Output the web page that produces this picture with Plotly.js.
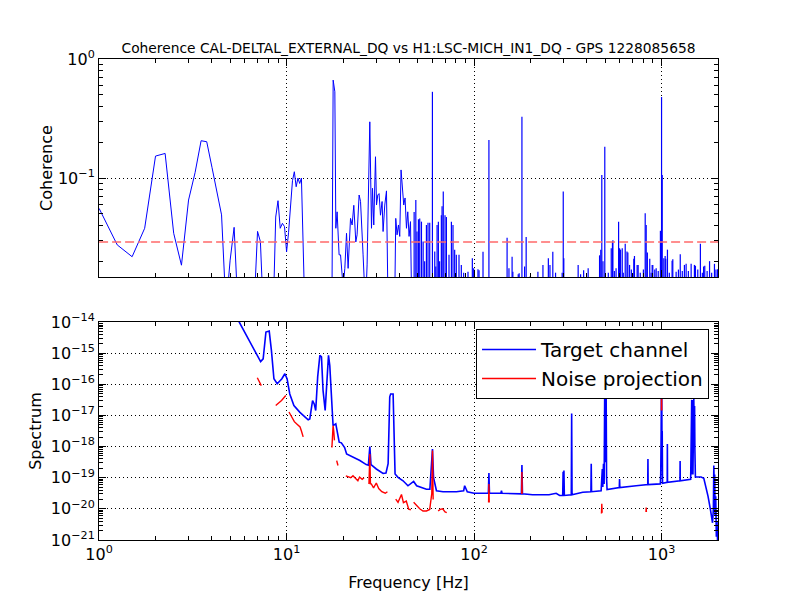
<!DOCTYPE html>
<html>
<head>
<meta charset="utf-8">
<script src="https://cdn.plot.ly/plotly-3.0.1.min.js"></script>
<style>html,body{margin:0;padding:0;background:#fff;}#plot{width:800px;height:600px;}</style>
</head>
<body>
<div id="plot"></div>
<script>
// ---------- Top panel: coherence, continuous low-frequency part (Hz, coherence) ----------
const cohFreq = [1.0,1.25,1.5,1.75,2.0,2.25,2.5,2.75,3.0,3.25,3.5,3.75,4.0,4.25,4.5,4.75,5.0,5.25,5.5,6.5,
  6.75,7.0,7.25,7.5,8.5,8.75,9.0,9.25,9.5,9.75,10.0,10.25,10.5,10.75,11.0,11.25,11.5,11.75,12.0,12.25,
  12.5,17.45,17.72,18.09,18.31,18.6,19.06,19.4,19.71,20.03,20.45,20.88,21.29,21.93,22.37,22.83,23.4,23.77,24.37,
  24.8,25.59,26.36,26.88,27.79,28.37,28.72,29.18,29.8,30.17,30.65,31.14,31.68,32.31,32.71,33.4,34.1,34.78,
  37.7,38.22,38.84,39.51,40.14,40.79,41.5,42.16,42.85,43.59,44.3,45.01,45.8,46.5];
const cohVal = [0.0556,0.0274,0.0218,0.0378,0.153,0.161,0.0343,0.0185,0.0653,0.111,0.206,0.202,0.123,0.079,0.049,0.008,0.0204,0.0385,0.008,0.008,
  0.010,0.0356,0.0292,0.008,0.008,0.047,0.0645,0.0378,0.0416,0.039,0.024,0.035,0.06,0.095,0.113,0.0845,0.1,0.09,0.1,0.04,
  0.008,0.008,0.666,0.531,0.0378,0.052,0.0226,0.0226,0.0163,0.012,0.0174,0.0343,0.0174,0.0458,0.0403,0.059,0.029,0.0333,0.072,
  0.0635,0.0226,0.008,0.0186,0.297,0.0378,0.082,0.0403,0.151,0.0593,0.072,0.074,0.0487,0.0635,0.0355,0.0593,0.078,0.008,
  0.008,0.0458,0.0333,0.0403,0.0323,0.117,0.082,0.0593,0.068,0.0378,0.052,0.0323,0.043,0.008];

// ---------- Top panel: narrow coherence lines above 46 Hz (Hz, peak coherence) ----------
const spikeFreq = [47.9,48.9,49.6,50.5,51.3,52.4,53.5,54.5,55.7,56.8,58.0,59.96,61.7,62.5,63.5,64.5,65.5,66.9,67.5,68.5,
  70.0,71.2,73.5,75.7,77.2,78.8,80.4,83.1,85.5,88.0,92.8,97.9,99.5,104.9,106.3,111.6,120.0,150.0,153.5,159.5,
  161.0,172.0,174.0,180.0,186.0,189.6,199.5,219.0,233.0,249.0,254.0,263.0,272.0,295.0,299.0,301.0,359.0,370.0,384.0,406.0,
  467.0,474.0,480.0,487.0,498.0,520.0,539.0,547.0,550.0,560.0,572.0,590.0,597.0,604.0,617.0,625.0,640.0,654.0,661.0,675.0,
  690.0,711.0,717.0,741.0,750.0,770.0,800.0,818.0,828.0,840.0,865.0,880.0,891.0,898.0,920.0,936.0,960.0,986.0,1000.0,1008.0,
  1028.0,1045.0,1053.0,1075.0,1100.0,1138.0,1148.0,1196.0,1230.0,1258.0,1290.0,1324.0,1352.0,1390.0,1438.0,1497.0,1516.0,1560.0,1611.0,1650.0,
  1676.0,1700.0,1750.0,1803.0,1850.0,1915.0,1950.0,1990.0];
const spikeCoh = [0.0519,0.0655,0.0355,0.045,0.0458,0.043,0.0292,0.02,0.0403,0.042,0.042,0.531,0.0241,0.018,0.0403,0.043,0.02,0.0487,0.058,0.077,
  0.0487,0.047,0.0226,0.043,0.0403,0.025,0.0226,0.0226,0.0186,0.016,0.0163,0.0212,0.0174,0.0171,0.0168,0.024,0.209,0.0315,0.0174,0.0218,
  0.0163,0.0155,0.0158,0.327,0.018,0.032,0.015,0.0163,0.0186,0.0212,0.0186,0.024,0.016,0.016,0.077,0.0212,0.0186,0.0155,0.0168,0.0174,
  0.0224,0.0249,0.106,0.02,0.183,0.016,0.0257,0.0292,0.030,0.0165,0.0174,0.043,0.0257,0.025,0.0257,0.016,0.028,0.0241,0.0236,0.0186,
  0.017,0.021,0.0221,0.0186,0.0186,0.016,0.017,0.0505,0.0403,0.0236,0.021,0.016,0.0186,0.0186,0.017,0.0174,0.0165,0.036,0.48,0.106,
  0.0212,0.0221,0.021,0.025,0.016,0.0202,0.0208,0.0163,0.017,0.0229,0.0165,0.0186,0.019,0.0165,0.019,0.0186,0.0183,0.017,0.028,0.016,
  0.018,0.0183,0.0165,0.02,0.016,0.019,0.017,0.0171];

const cohThreshold = 0.029;

// ---------- Bottom panel: target channel spectrum (Hz, log10 of spectrum) ----------
const specFreq = [5.0,5.59,7.27,7.5,7.76,8.08,8.3,8.56,8.91,9.44,9.79,10.06,10.4,10.94,11.78,13.03,13.3,13.76,14.04,14.3,
  14.65,15.05,15.35,15.65,16.06,16.34,16.73,17.0,17.43,17.7,18.3,19.08,19.6,20.4,20.9,22.6,24.6,26.6,27.3,27.8,
  28.2,30.1,32.7,33.9,34.8,35.5,35.9,37.0,37.3,37.9,39.3,41.8,44.4,46.0,47.6,49.4,51.3,55.7,58.1,59.2,
  60.0,60.8,63.0,68.3,80.5,88.0,89.1,92.0,100,119.2,120,120.8,139,140,141,178.8,180,181.2,205,251,
  274,286,297,298.5,300,301.5,303,330,331.5,333,380,420,421.6,423.2,476,480,483,486,490,494,
  498,501,503,506,509,512,595,597,599,732,844,846,848,985,990,995,998,1000,1002,1005,
  1008,1012,1072,1074,1076,1254,1256,1258,1430,1436,1442,1448,1455,1462,1470,1478,1486,1494,1500,1506,
  1515,1625,1680,1720,1770,1820,1870,1890,1900,1910,1920,1930,1945,1960,1975,1990,2000];
const specLog10 = [-13.4,-14.0,-15.27,-15.18,-14.32,-14.29,-14.91,-15.82,-15.98,-15.82,-15.66,-15.82,-16.31,-16.68,-16.9,-17.14,-17.11,-16.52,-16.63,-16.84,
  -15.76,-15.07,-15.12,-16.2,-16.84,-16.09,-15.07,-15.4,-16.84,-17.33,-17.27,-17.86,-17.88,-18.03,-18.24,-18.34,-18.45,-18.58,-18.6,-18.0,
  -18.58,-18.72,-18.86,-18.85,-18.55,-16.4,-16.31,-16.31,-16.95,-18.88,-18.99,-19.1,-19.26,-19.2,-19.12,-19.26,-19.29,-19.37,-19.37,-18.35,
  -18.08,-19.0,-19.42,-19.45,-19.45,-19.42,-19.26,-19.45,-19.5,-19.5,-18.85,-19.5,-19.5,-19.42,-19.5,-19.52,-18.59,-19.52,-19.55,-19.55,
  -19.5,-19.57,-19.57,-18.81,-19.57,-18.77,-19.57,-19.55,-16.94,-19.55,-19.47,-19.45,-18.55,-19.45,-19.42,-19.0,-18.72,-19.3,-18.55,-19.2,
  -15.8,-18.5,-15.6,-15.9,-19.0,-19.38,-19.32,-19.04,-19.32,-19.26,-19.22,-18.4,-19.22,-19.2,-18.9,-17.5,-16.0,-15.3,-16.0,-17.9,
  -17.5,-19.18,-19.15,-17.92,-19.15,-19.1,-18.46,-19.1,-19.05,-16.55,-18.9,-16.5,-18.9,-16.5,-18.9,-16.47,-16.47,-18.0,-16.7,-18.13,
  -18.98,-18.98,-19.02,-19.25,-19.6,-20.0,-20.45,-20.0,-18.61,-19.3,-18.9,-20.2,-19.6,-20.9,-20.4,-21.3,-21.5];

// ---------- Bottom panel: noise projection (Hz, log10), null = not shown ----------
const noiseFreq = [6.98,7.15,7.33,null,8.75,9.1,9.4,9.9,null,10.3,10.6,11.0,11.3,11.8,12.0,12.26,null,
  17.45,17.6,17.7,17.85,18.0,null,18.5,18.8,null,20.7,21.4,22.0,22.6,23.5,24.0,24.5,25.3,25.9,null,
  27.5,27.8,28.0,28.3,29.1,30.1,31.0,32.2,33.6,34.5,null,38.2,39.3,41.0,42.0,43.5,44.8,46.0,null,
  47.6,49.4,51.3,53.4,55.7,58.0,59.5,60.0,60.5,null,64.3,66.0,68.0,70.0,71.5,null,
  119.5,120.0,120.5,null,179.5,180.0,180.5,null,478,480,482,null,826,828,830,null,998,1000,1002];
const noiseLog10 = [-15.79,-15.9,-16.04,null,-16.68,-16.6,-16.52,-16.36,null,-16.89,-17.05,-17.2,-17.27,-17.37,-17.5,-17.69,null,
  -18.03,-17.6,-17.33,-17.5,-17.8,null,-18.45,-18.61,null,-18.94,-18.96,-19.0,-18.94,-19.06,-19.1,-18.98,-19.05,-19.0,null,
  -19.2,-18.24,-19.2,-19.2,-19.33,-19.17,-19.35,-19.45,-19.5,-19.45,null,-19.69,-19.79,-19.54,-19.8,-19.75,-20.01,-20.03,null,
  -19.79,-19.9,-20.0,-20.07,-20.07,-20.02,-19.5,-18.13,-19.7,null,-20.07,-20.02,-20.0,-20.1,-20.12,null,
  -19.8,-19.2,-19.8,null,-19.52,-18.82,-19.52,null,-20.15,-19.84,-20.13,null,-20.1,-19.96,-20.1,null,-16.84,-15.8,-16.84];

// ---------- tick labels ----------
const xTickVals = [1, 10, 100, 1000];
const xTickText = ['10<sup>0</sup>','10<sup>1</sup>','10<sup>2</sup>','10<sup>3</sup>'];
const cohTickVals = [0.1, 1];
const cohTickText = ['10<sup>\u22121</sup>','10<sup>0</sup>'];
const specExp = [-21,-20,-19,-18,-17,-16,-15,-14];

// ---------- build ----------
const FONT = 'DejaVu Sans, Verdana, sans-serif';
const unlog = a => a.map(v => v === null ? null : Math.pow(10, v));
const cohFloor = 0.005; // below the visible range: narrow lines start off-axis

const spX = [], spY = [];
spikeFreq.forEach((f, i) => { spX.push(f, f, null); spY.push(cohFloor, spikeCoh[i], null); });

function minorVals(e0, e1) {
  const out = [];
  for (let e = e0; e <= e1; e++) for (let m = 2; m <= 9; m++) out.push(m * Math.pow(10, e));
  return out;
}
const specTickVals = specExp.map(e => Math.pow(10, e));
const specTickText = specExp.map(e => '10<sup>' + (e < 0 ? '\u2212' + (-e) : e) + '</sup>');

const axBase = {
  type: 'log', showline: true, linecolor: 'black', linewidth: 1, mirror: 'allticks',
  ticks: 'inside', ticklen: 7, tickwidth: 1, tickcolor: 'black',
  showgrid: true, gridcolor: 'black', gridwidth: 1, griddash: '1px,3px',
  zeroline: false, tickfont: {family: FONT, size: 16, color: 'black'}, tickmode: 'array'
};
function ax(extra) { return Object.assign({}, axBase, extra); }

const traces = [
  {x: cohFreq, y: cohVal, xaxis: 'x2', yaxis: 'y2', mode: 'lines', line: {color: '#0000ff', width: 1}, showlegend: false, hoverinfo: 'skip'},
  {x: spX, y: spY, xaxis: 'x2', yaxis: 'y2', mode: 'lines', line: {color: '#0000ff', width: 1.2}, showlegend: false, hoverinfo: 'skip'},
  {x: [1, 2000], y: [cohThreshold, cohThreshold], xaxis: 'x2', yaxis: 'y2', mode: 'lines',
   line: {color: '#ff6a6a', width: 1.4, dash: '9px,4px'}, showlegend: false, hoverinfo: 'skip'},
  {x: specFreq, y: unlog(specLog10), xaxis: 'x', yaxis: 'y', mode: 'lines', name: 'Target channel',
   line: {color: '#0000ff', width: 1.6}},
  {x: noiseFreq, y: unlog(noiseLog10), xaxis: 'x', yaxis: 'y', mode: 'lines', name: 'Noise projection',
   line: {color: '#ff0000', width: 1.4}, connectgaps: false}
];

const xRange = [-0.0005, Math.log10(2000)];
const layout = {
  width: 800, height: 600,
  margin: {l: 99, r: 82, t: 59, b: 60},
  paper_bgcolor: 'white', plot_bgcolor: 'white',
  font: {family: FONT, color: 'black'},
  title: {text: 'Coherence CAL-DELTAL_EXTERNAL_DQ vs H1:LSC-MICH_IN1_DQ - GPS 1228085658',
          font: {family: FONT, size: 13.8, color: 'black'}, x: 0.5, xref: 'paper', xanchor: 'center',
          y: 0.92, yref: 'container', yanchor: 'middle'},
  xaxis: ax({range: xRange, anchor: 'y', tickvals: xTickVals, ticktext: xTickText,
    minor: {ticks: 'inside', ticklen: 4, tickcolor: 'black', tickmode: 'array', tickvals: minorVals(0, 3).filter(v => v <= 2000), showgrid: false},
    title: {text: 'Frequency [Hz]', font: {family: FONT, size: 16}, standoff: 13}}),
  yaxis: ax({range: [-21.002, -13.998], domain: [0, 0.4532], anchor: 'x', tickvals: specTickVals, ticktext: specTickText,
    minor: {ticks: 'inside', ticklen: 4, tickcolor: 'black', tickmode: 'array', tickvals: minorVals(-21, -15), showgrid: false},
    title: {text: 'Spectrum', font: {family: FONT, size: 16}, standoff: 5}}),
  xaxis2: ax({range: xRange, anchor: 'y2', matches: 'x', showticklabels: false, tickvals: xTickVals,
    minor: {ticks: 'inside', ticklen: 4, tickcolor: 'black', tickmode: 'array', tickvals: minorVals(0, 3).filter(v => v <= 2000), showgrid: false}}),
  yaxis2: ax({range: [-1.832, 0.001], domain: [0.5468, 1], anchor: 'x2', tickvals: cohTickVals, ticktext: cohTickText,
    minor: {ticks: 'inside', ticklen: 4, tickcolor: 'black', tickmode: 'array', tickvals: minorVals(-2, -1), showgrid: false},
    title: {text: 'Coherence', font: {family: FONT, size: 16}, standoff: 1}}),
  showlegend: true,
  legend: {x: 0.9855, xanchor: 'right', y: 0.4387, yanchor: 'top', bgcolor: 'white', itemwidth: 54,
           bordercolor: 'black', borderwidth: 1, font: {family: FONT, size: 20, color: 'black'}}
};

Plotly.newPlot('plot', traces, layout, {staticPlot: true, displayModeBar: false});
</script>
</body>
</html>
